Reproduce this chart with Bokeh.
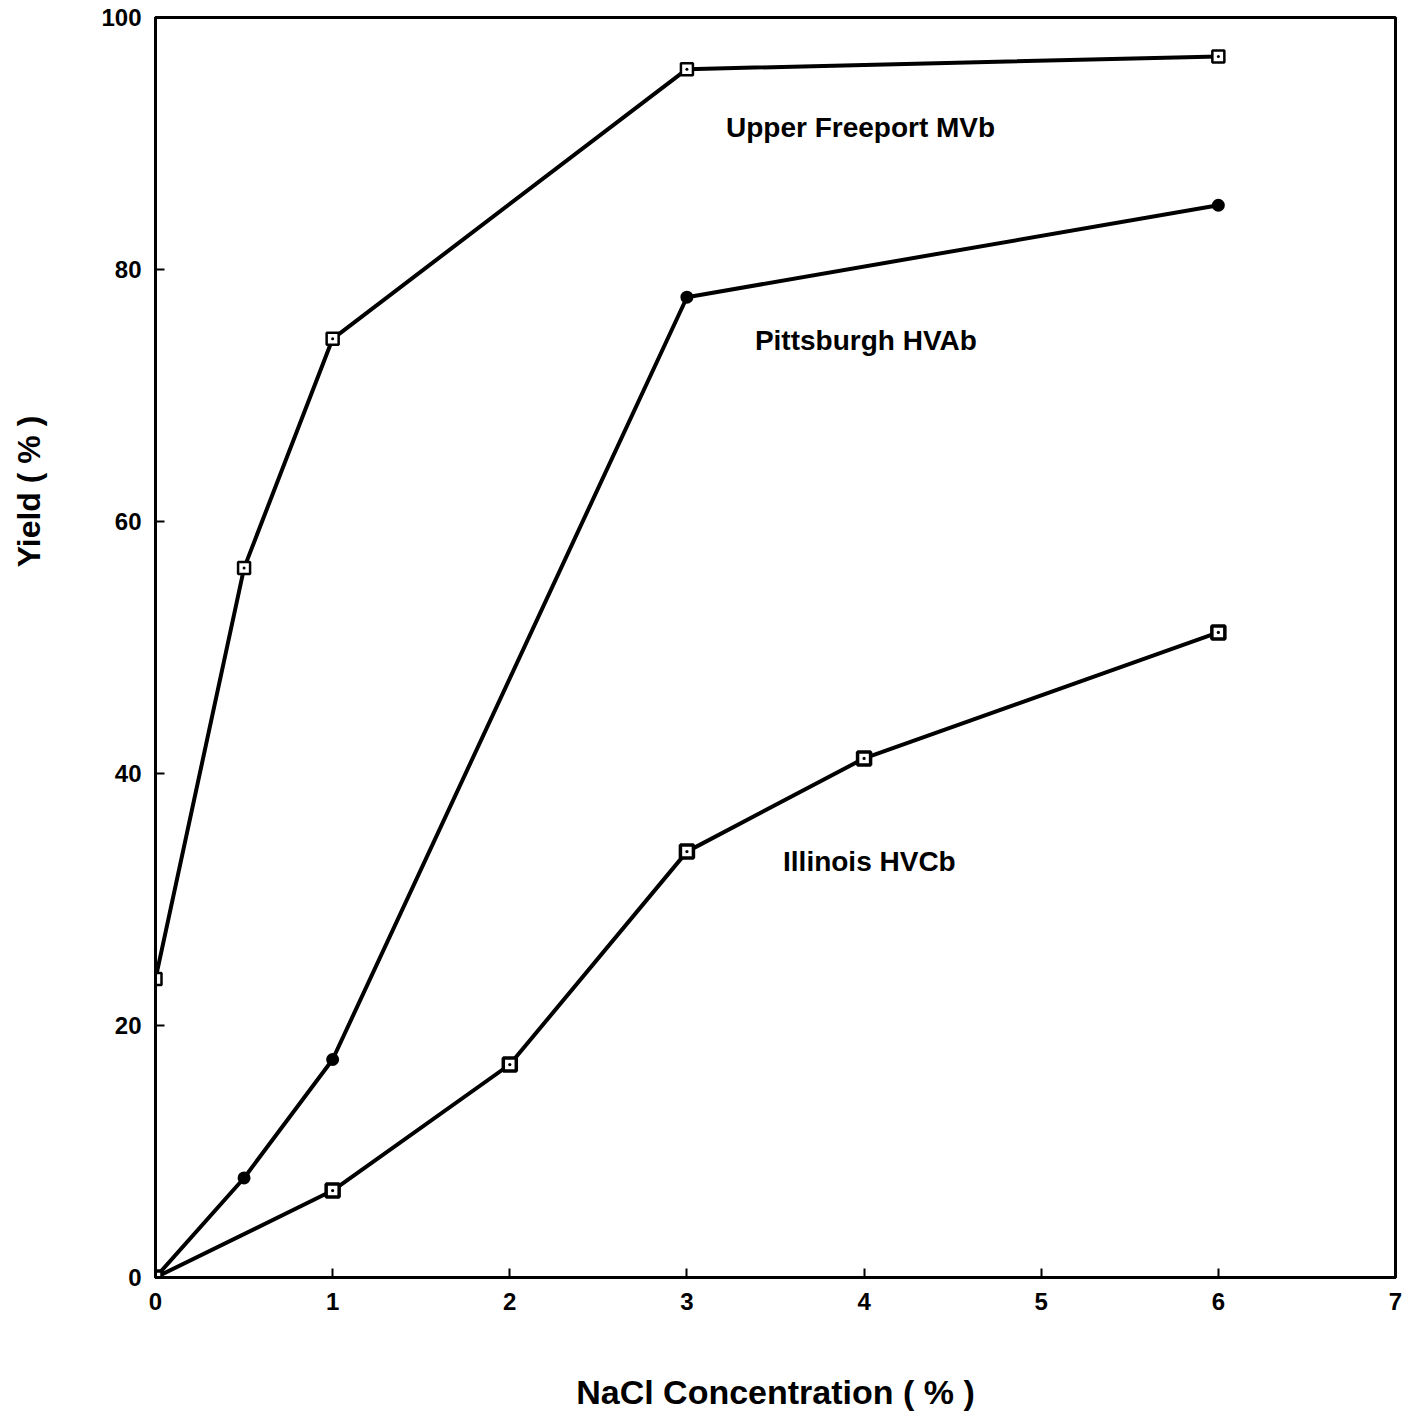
import math
from bokeh.plotting import figure
from bokeh.layouts import row
from bokeh.models import Range1d, FixedTicker, Label
from bokeh.embed import file_html
from bokeh.resources import INLINE

# NaCl concentration (%) and yield (%) for three coals
uf_nacl = [0, 0.5, 1, 3, 6]
uf_yield = [23.7, 56.3, 74.5, 95.9, 96.9]

pit_nacl = [0, 0.5, 1, 3, 6]
pit_yield = [0, 7.9, 17.3, 77.8, 85.1]

ill_nacl = [0, 1, 2, 3, 4, 6]
ill_yield = [0, 6.9, 16.9, 33.8, 41.2, 51.2]

x_ticks = [0, 1, 2, 3, 4, 5, 6, 7]
y_ticks = [0, 20, 40, 60, 80, 100]

FONT = "Liberation Sans"
TITLE_W = 60
PAGE_H = 1415

# Narrow strip holding the vertical y-axis title
side = figure(
    width=TITLE_W, height=PAGE_H,
    output_backend="svg", toolbar_location=None,
    x_range=Range1d(0, TITLE_W), y_range=Range1d(0, PAGE_H),
    min_border=0,
)
side.frame_width = TITLE_W
side.frame_height = PAGE_H
side.axis.visible = False
side.grid.visible = False
side.outline_line_color = None
side.background_fill_color = "white"
side.border_fill_color = "white"
side.add_layout(Label(
    x=28, y=PAGE_H - 474, text="Yield ( % )", angle=math.pi / 2,
    text_align="center", text_baseline="middle",
    text_font=FONT, text_font_style="bold",
    text_font_size="32px", text_color="black",
))

p = figure(
    width=1411 - TITLE_W, height=PAGE_H,
    output_backend="svg", toolbar_location=None,
    x_range=Range1d(0, 7), y_range=Range1d(0, 100),
)
p.frame_width = 1240
p.frame_height = 1260
p.min_border_left = 155 - TITLE_W
p.min_border_right = 16
p.min_border_top = 17
p.min_border_bottom = 138

p.grid.visible = False
p.background_fill_color = "white"
p.border_fill_color = "white"
p.outline_line_color = "black"
p.outline_line_width = 3

for ax in (p.xaxis[0], p.yaxis[0]):
    ax.axis_line_width = 3
    ax.axis_line_color = "black"
    ax.major_tick_in = 9
    ax.major_tick_out = 0
    ax.major_tick_line_width = 2
    ax.minor_tick_line_color = None
    ax.major_label_text_font = FONT
    ax.major_label_text_font_style = "bold"
    ax.major_label_text_font_size = "24px"
    ax.major_label_text_color = "black"

p.xaxis.ticker = FixedTicker(ticks=x_ticks)
p.yaxis.ticker = FixedTicker(ticks=y_ticks)
p.xaxis.major_label_standoff = 15
p.yaxis.major_label_standoff = 14

p.xaxis.axis_label = "NaCl Concentration ( % )"
p.xaxis.axis_label_text_font = FONT
p.xaxis.axis_label_text_font_style = "bold"
p.xaxis.axis_label_text_font_size = "34px"
p.xaxis.axis_label_text_color = "black"
p.xaxis.axis_label_standoff = 60

# Upper Freeport MVb
p.line(uf_nacl, uf_yield, line_color="black", line_width=4)
p.scatter(uf_nacl, uf_yield, marker="square_dot", size=12,
          fill_color="white", line_color="black", line_width=2.5)

# Pittsburgh HVAb
p.line(pit_nacl, pit_yield, line_color="black", line_width=4)
p.scatter(pit_nacl, pit_yield, marker="circle", size=11,
          fill_color="black", line_color="black", line_width=2)

# Illinois HVCb
p.line(ill_nacl, ill_yield, line_color="black", line_width=4)
p.scatter(ill_nacl, ill_yield, marker="square_dot", size=13,
          fill_color="white", line_color="black", line_width=3.5)

labels = [
    ("Upper Freeport MVb", 3.98, 91.3),
    ("Pittsburgh HVAb", 4.01, 74.4),
    ("Illinois HVCb", 4.03, 33.0),
]
for txt, lx, ly in labels:
    p.add_layout(Label(
        x=lx, y=ly, text=txt,
        text_align="center", text_baseline="middle",
        text_font=FONT, text_font_style="bold",
        text_font_size="28px", text_color="black",
    ))

layout = row(side, p, spacing=0)
open("out.html", "w").write(file_html(layout, INLINE))
